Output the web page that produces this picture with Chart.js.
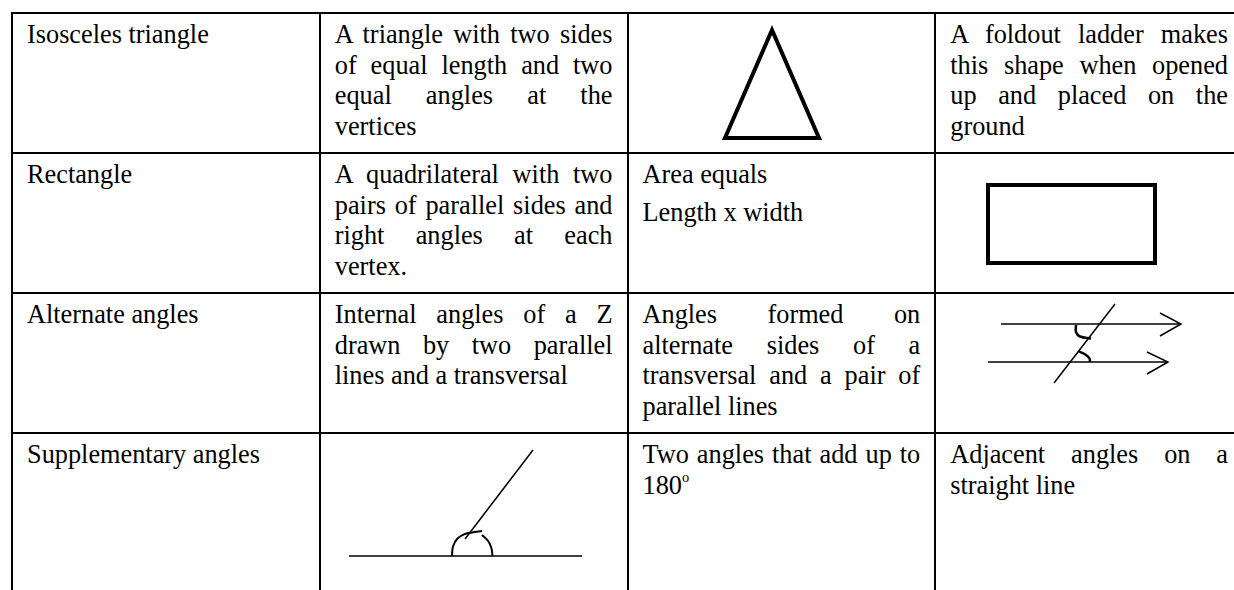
<!DOCTYPE html>
<html>
<head>
<meta charset="utf-8">
<script src="https://cdn.jsdelivr.net/npm/chart.js@4/dist/chart.umd.min.js"></script>
<style>
    html, body { margin: 0; padding: 0; background: #fff; overflow: hidden; width: 1234px; height: 590px; }
    table {
        position: absolute; left: 11px; top: 12px;
        border-collapse: collapse; table-layout: fixed; width: 1233px;
        font-family: "Liberation Serif", "Times New Roman", serif;
        font-size: 26.3px; line-height: 30.5px; color: #000;
    }
    td { border: 2px solid #000; padding: 6px 14px 0 14px; vertical-align: top; }
    tr { height: 140px; }
    tr.last { height: 200px; }
    .j { text-align: justify; text-align-last: justify; white-space: nowrap; }
    .p { margin-bottom: 7px; }
    sup { font-size: 0.55em; line-height: 0; vertical-align: 0.8em; }
    #figuras { position: absolute; left: 0; top: 0; pointer-events: none; }
</style>
</head>
<body>

<table>
    <tr>
        <td>Isosceles triangle</td>
        <td>
            <div class="j">A triangle with two sides</div>
            <div class="j">of equal length and two</div>
            <div class="j">equal angles at the</div>
            <div>vertices</div>
        </td>
        <td></td>
        <td>
            <div class="j">A foldout ladder makes</div>
            <div class="j">this shape when opened</div>
            <div class="j">up and placed on the</div>
            <div>ground</div>
        </td>
    </tr>
    <tr>
        <td>Rectangle</td>
        <td>
            <div class="j">A quadrilateral with two</div>
            <div class="j">pairs of parallel sides and</div>
            <div class="j">right angles at each</div>
            <div>vertex.</div>
        </td>
        <td>
            <div class="p">Area equals</div>
            <div>Length x width</div>
        </td>
        <td></td>
    </tr>
    <tr>
        <td>Alternate angles</td>
        <td>
            <div class="j">Internal angles of a Z</div>
            <div class="j">drawn by two parallel</div>
            <div>lines and a transversal</div>
        </td>
        <td>
            <div class="j">Angles formed on</div>
            <div class="j">alternate sides of a</div>
            <div class="j">transversal and a pair of</div>
            <div>parallel lines</div>
        </td>
        <td></td>
    </tr>
    <tr class="last">
        <td>Supplementary angles</td>
        <td></td>
        <td>
            <div class="j">Two angles that add up to</div>
            <div>180<sup>o</sup></div>
        </td>
        <td>
            <div class="j">Adjacent angles on a</div>
            <div>straight line</div>
        </td>
    </tr>
</table>

<canvas id="figuras" width="1234" height="590"></canvas>

<script>
// ============================================
// Figuras de la tabla (coordenadas de página)
// ============================================

// Triángulo isósceles (se repite el primer lado para cerrar la esquina)
const triangulo = [[772, 30], [725, 138], [819, 138], [772, 30], [725, 138]];

// Rectángulo
const rectangulo = [[988, 185], [1155, 185], [1155, 263], [988, 263], [988, 185], [1155, 185]];

// Ángulos alternos
const paralelaSup = [[1001, 324], [1181, 324]];
const flechaSup = [[1160, 313], [1181, 324], [1160, 336]];
const paralelaInf = [[988, 362], [1168, 362]];
const flechaInf = [[1147, 352], [1168, 362], [1147, 374]];
const transversal = [[1115, 304], [1054, 383]];
const arcoSup = [[1076, 325], [1076, 332], [1080, 336.5], [1091, 338.5]];
const arcoInf = [[1079, 351.5], [1086, 355], [1089.5, 358.5], [1090, 362]];

// Ángulos suplementarios
const rectaBase = [[349, 556], [582, 556]];
const rayo = [[533, 450], [465, 539]];
const arcoIzq = [[452, 556], [453, 546.5], [457.5, 538.5], [465, 534], [472, 532.5], [482, 531]];
const arcoDer = [[482, 535], [488.5, 541.5], [491.5, 548.5], [492.5, 556]];

const toPts = (arr) => arr.map(p => ({ x: p[0], y: p[1] }));

const serie = (arr, ancho, curva) => ({
    data: toPts(arr),
    showLine: true,
    borderColor: '#000',
    backgroundColor: '#000',
    borderWidth: ancho,
    pointRadius: 0,
    fill: false,
    tension: curva ? 0.4 : 0,
    borderJoinStyle: 'miter',
    borderCapStyle: 'butt'
});

new Chart(document.getElementById('figuras'), {
    type: 'scatter',
    data: {
        datasets: [
            serie(triangulo, 4, false),
            serie(rectangulo, 4, false),
            serie(paralelaSup, 1.5, false),
            serie(flechaSup, 1.5, false),
            serie(paralelaInf, 1.5, false),
            serie(flechaInf, 1.5, false),
            serie(transversal, 1.5, false),
            serie(arcoSup, 2.5, true),
            serie(arcoInf, 2.5, true),
            serie(rectaBase, 1.5, false),
            serie(rayo, 1.5, false),
            serie(arcoIzq, 2, true),
            serie(arcoDer, 2, true)
        ]
    },
    options: {
        responsive: false,
        animation: false,
        events: [],
        layout: { padding: 0 },
        plugins: {
            legend: { display: false },
            tooltip: { enabled: false }
        },
        scales: {
            x: { type: 'linear', min: 0, max: 1234, display: false },
            y: { type: 'linear', min: 0, max: 590, reverse: true, display: false }
        }
    }
});
</script>
</body>
</html>
